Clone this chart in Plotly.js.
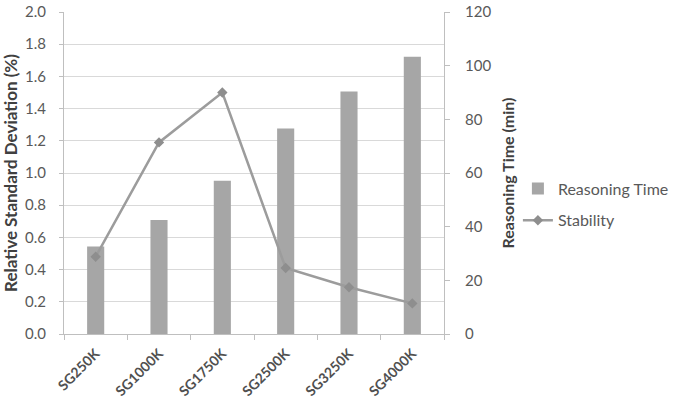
<!DOCTYPE html>
<html>
<head>
<meta charset="utf-8">
<script src="https://cdn.plot.ly/plotly-3.0.1.min.js"></script>
<style>html,body{margin:0;padding:0;background:#fff;}#chart{width:677px;height:420px;}</style>
</head>
<body>
<div id="chart"></div>
<script>
const categories = ["SG250K", "SG1000K", "SG1750K", "SG2500K", "SG3250K", "SG4000K"];
const reasoningTime = [32.6, 42.5, 57.1, 76.6, 90.4, 103.3];
const stability = [0.48, 1.19, 1.50, 0.41, 0.29, 0.19];
const leftTicks = [0, 0.2, 0.4, 0.6, 0.8, 1.0, 1.2, 1.4, 1.6, 1.8, 2.0];
const rightTicks = [0, 20, 40, 60, 80, 100, 120];

const fontFam = "Lato, 'Open Sans', 'Liberation Sans', sans-serif";

const traces = [
  {
    type: "bar",
    name: "Reasoning Time",
    x: categories,
    y: reasoningTime,
    yaxis: "y",
    width: 0.27,
    marker: {color: "#a6a6a6"},
    legendgroup: "a"
  },
  {
    type: "scatter",
    mode: "lines+markers",
    name: "Stability",
    x: categories,
    y: stability,
    yaxis: "y2",
    line: {color: "#9c9c9c", width: 2.5},
    marker: {symbol: "diamond", size: 8, color: "#8e8e8e"},
    legendgroup: "b"
  }
];

const layout = {
  width: 677,
  height: 420,
  margin: {l: 64, r: 233, t: 12, b: 86},
  paper_bgcolor: "#ffffff",
  plot_bgcolor: "#ffffff",
  font: {family: fontFam, size: 14, color: "#595959"},
  showlegend: true,
  legend: {
    xref: "container", yref: "container",
    x: 0.765, y: 0.513, xanchor: "left", yanchor: "middle",
    font: {family: fontFam, size: 16, color: "#595959"},
    traceorder: "grouped",
    tracegroupgap: 8,
    bgcolor: "rgba(0,0,0,0)"
  },
  xaxis: {
    type: "category",
    tickangle: -45,
    tickson: "boundaries",
    ticks: "outside",
    ticklen: 5,
    tickcolor: "#bfbfbf",
    showline: true,
    linecolor: "#bfbfbf",
    showgrid: false,
    ticklabelstandoff: 5,
    tickfont: {family: fontFam, size: 14, color: "#505050", weight: "bold"}
  },
  yaxis: {
    side: "right",
    range: [0, 120],
    tickvals: rightTicks,
    ticks: "outside",
    ticklen: 5,
    tickcolor: "#bfbfbf",
    showline: true,
    linecolor: "#bfbfbf",
    showgrid: false,
    zeroline: false,
    ticklabelstandoff: 12,
    tickfont: {family: fontFam, size: 15, color: "#595959"},
    title: {text: "<b>Reasoning Time (min)</b>", font: {family: fontFam, size: 16, color: "#404040"}, standoff: 12}
  },
  yaxis2: {
    overlaying: "y",
    side: "left",
    range: [0, 2],
    tickvals: leftTicks,
    tickformat: ".1f",
    ticks: "outside",
    ticklen: 4,
    tickcolor: "#bfbfbf",
    showline: true,
    linecolor: "#bfbfbf",
    showgrid: true,
    gridcolor: "#d9d9d9",
    gridwidth: 1,
    zeroline: false,
    ticklabelstandoff: 10,
    tickfont: {family: fontFam, size: 15, color: "#595959"},
    title: {text: "<b>Relative Standard Deviation (%)</b>", font: {family: fontFam, size: 17, color: "#404040"}, standoff: 6}
  }
};

Plotly.newPlot("chart", traces, layout, {displayModeBar: false, staticPlot: true});
</script>
</body>
</html>
